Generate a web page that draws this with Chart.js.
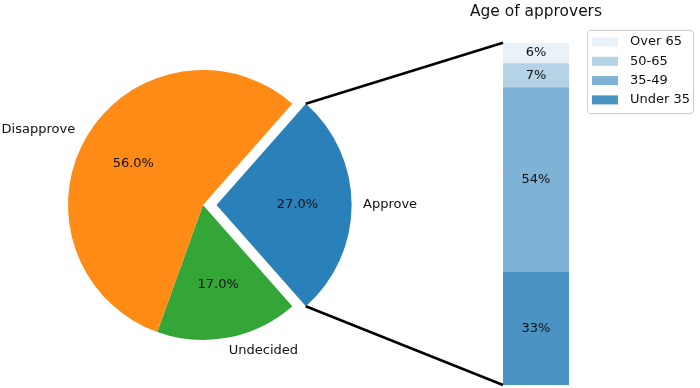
<!DOCTYPE html>
<html>
<head>
<meta charset="utf-8">
<script src="https://cdn.jsdelivr.net/npm/chart.js@4.4.1/dist/chart.umd.min.js"></script>
<style>
  html, body { margin: 0; padding: 0; background: #fff; }
  #wrap { position: relative; width: 700px; height: 388px; }
  #wrap canvas { position: absolute; left: 0; top: 0; }
</style>
</head>
<body>
<div id="wrap">
  <canvas id="pieChart" width="700" height="388"></canvas>
  <canvas id="barChart" width="700" height="388"></canvas>
</div>
<script>
// pie data, listed clockwise starting with the exploded wedge
const overallLabels = ['Approve', 'Undecided', 'Disapprove'];
const overallRatios = [27, 17, 56];
const overallColors = ['#2a80b9', '#34a537', '#ff8b17'];

// stacked bar data, bottom to top
const ageLabels = ['Under 35', '35-49', '50-65', 'Over 65'];
const ageRatios = [33, 54, 7, 6];
const ageAlphas = [0.85, 0.6, 0.35, 0.1];

const FONT = 'DejaVu Sans';
const EXPLODE = 13.5; // px the Approve wedge is pulled out

const total = overallRatios.reduce((a, b) => a + b, 0);

// percentages inside the wedges and labels outside (matplotlib style)
const pieText = {
    id: 'pieText',
    afterDatasetsDraw(chart) {
        const ctx = chart.ctx;
        const meta = chart.getDatasetMeta(0);
        ctx.save();
        ctx.font = `13px "${FONT}"`;
        ctx.fillStyle = '#111';
        ctx.textBaseline = 'middle';
        meta.data.forEach((arc, i) => {
            const p = arc.getProps(['x', 'y', 'startAngle', 'endAngle', 'outerRadius']);
            const mid = (p.startAngle + p.endAngle) / 2;
            const shift = (arc.options.offset || 0) / 4;
            const cx = p.x + shift * Math.cos(mid);
            const cy = p.y + shift * Math.sin(mid);
            const r = p.outerRadius;
            ctx.textAlign = 'center';
            ctx.fillText((overallRatios[i] / total * 100).toFixed(1) + '%',
                cx + 0.6 * r * Math.cos(mid), cy + 0.6 * r * Math.sin(mid));
            const right = Math.cos(mid) > 0;
            ctx.textAlign = right ? 'left' : 'right';
            ctx.fillText(overallLabels[i], cx + 1.1 * r * Math.cos(mid) - (right ? 2 : 0),
                cy + 1.1 * r * Math.sin(mid));
        });
        ctx.restore();
    }
};

const pieChart = new Chart(document.getElementById('pieChart'), {
    type: 'pie',
    data: {
        labels: overallLabels,
        datasets: [{
            data: overallRatios,
            backgroundColor: overallColors,
            borderWidth: 0,
            offset: overallLabels.map((l, i) => i === 0 ? EXPLODE * 4 : 0),
        }]
    },
    options: {
        responsive: false,
        animation: false,
        rotation: 90 - 180 * overallRatios[0] / total, // centre Approve on the right
        radius: 135,
        layout: { padding: { left: 0, right: 294, top: 22, bottom: 0 } },
        plugins: { legend: { display: false }, tooltip: { enabled: false } }
    },
    plugins: [pieText]
});

// percentages centred in each bar segment
const barText = {
    id: 'barText',
    afterDatasetsDraw(chart) {
        const ctx = chart.ctx;
        ctx.save();
        ctx.font = `13px "${FONT}"`;
        ctx.fillStyle = '#111';
        ctx.textAlign = 'center';
        ctx.textBaseline = 'middle';
        chart.data.datasets.forEach((ds, i) => {
            const bar = chart.getDatasetMeta(i).data[0];
            ctx.fillText(ds.data[0] + '%', bar.x, (bar.y + bar.base) / 2);
        });
        ctx.restore();
    }
};

// framed legend in the upper right, top segment listed first
const boxLegend = {
    id: 'boxLegend',
    afterDraw(chart) {
        const ctx = chart.ctx;
        const x0 = 587, y0 = 30, w = 106, h = 83, row = 19.3;
        ctx.save();
        ctx.fillStyle = 'rgba(255,255,255,0.8)';
        ctx.strokeStyle = '#cccccc';
        ctx.lineWidth = 1;
        ctx.beginPath();
        ctx.roundRect(x0 + 0.5, y0 + 0.5, w, h, 3);
        ctx.fill();
        ctx.stroke();
        ctx.font = `13px "${FONT}"`;
        ctx.textAlign = 'left';
        ctx.textBaseline = 'middle';
        const items = chart.data.datasets.slice().reverse();
        items.forEach((ds, k) => {
            const cy = y0 + 12 + k * row;
            ctx.fillStyle = ds.backgroundColor;
            ctx.fillRect(x0 + 5, cy - 4.5, 26, 9);
            ctx.fillStyle = '#111';
            ctx.fillText(ds.label, x0 + 43, cy);
        });
        ctx.restore();
    }
};

// black lines joining the exploded wedge to the bar
const connectors = {
    id: 'connectors',
    afterDraw(chart) {
        const arc = pieChart.getDatasetMeta(0).data[0];
        const p = arc.getProps(['x', 'y', 'startAngle', 'endAngle', 'outerRadius']);
        const mid = (p.startAngle + p.endAngle) / 2;
        const shift = (arc.options.offset || 0) / 4;
        const cx = p.x + shift * Math.cos(mid);
        const cy = p.y + shift * Math.sin(mid);
        const r = p.outerRadius;
        const bottomBar = chart.getDatasetMeta(0).data[0];
        const topBar = chart.getDatasetMeta(chart.data.datasets.length - 1).data[0];
        const left = bottomBar.x - bottomBar.width / 2;
        const ctx = chart.ctx;
        ctx.save();
        ctx.strokeStyle = '#000';
        ctx.lineWidth = 2.5;
        ctx.beginPath();
        ctx.moveTo(cx + r * Math.cos(p.startAngle), cy + r * Math.sin(p.startAngle));
        ctx.lineTo(left, topBar.y);
        ctx.moveTo(cx + r * Math.cos(p.endAngle), cy + r * Math.sin(p.endAngle));
        ctx.lineTo(left, bottomBar.base);
        ctx.stroke();
        ctx.restore();
    }
};

new Chart(document.getElementById('barChart'), {
    type: 'bar',
    data: {
        labels: [''],
        datasets: ageLabels.map((label, i) => ({
            label,
            data: [ageRatios[i]],
            backgroundColor: `rgba(42,128,185,${ageAlphas[i]})`,
            borderWidth: 0,
            barPercentage: 0.5,
            categoryPercentage: 1,
        }))
    },
    options: {
        responsive: false,
        animation: false,
        layout: { padding: { left: 470, right: 98, top: 0, bottom: 3 } },
        scales: {
            x: { display: false, stacked: true },
            y: { display: false, stacked: true, min: 0, max: 100 }
        },
        plugins: {
            legend: { display: false },
            tooltip: { enabled: false },
            title: {
                display: true,
                text: 'Age of approvers',
                color: '#111',
                font: { family: FONT, size: 15.6, weight: 'normal' },
                padding: { top: 3, bottom: 21 }
            }
        }
    },
    plugins: [barText, boxLegend, connectors]
});
</script>
</body>
</html>
